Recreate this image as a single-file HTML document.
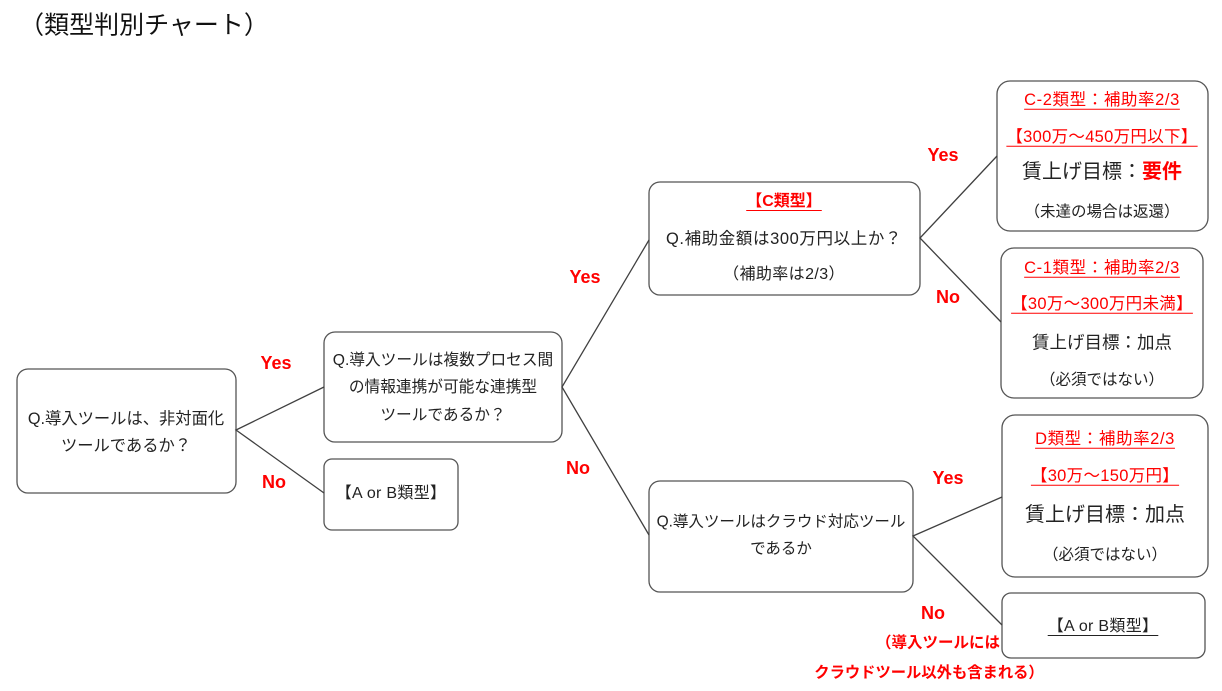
<!DOCTYPE html>
<html><head><meta charset="utf-8">
<style>
html,body{margin:0;padding:0;background:#fff;}
body{width:1222px;height:691px;position:relative;overflow:hidden;font-family:"Liberation Sans","Noto Sans CJK JP",sans-serif;color:#222;}
svg{position:absolute;left:0;top:0;}
.t{position:absolute;transform:translate(-50%,-50%);white-space:nowrap;line-height:1;font-size:15.5px;}
.r{color:#f00;}
.b{font-weight:bold;}
.u{text-decoration:underline;text-underline-offset:4px;text-decoration-thickness:1px;}
.lbl{color:#f00;font-weight:bold;font-size:18px;}
.hd{font-size:16.5px;letter-spacing:0.6px;}
</style></head><body>
<svg width="1222" height="691" viewBox="0 0 1222 691">
<g fill="#fff" stroke="#555" stroke-width="1.3">
<rect x="17" y="369" width="219" height="124" rx="11"/>
<rect x="324" y="332" width="238" height="110" rx="11"/>
<rect x="324" y="459" width="134" height="71" rx="8"/>
<rect x="649" y="182" width="271" height="113" rx="11"/>
<rect x="649" y="481" width="264" height="111" rx="11"/>
<rect x="997" y="81" width="211" height="150" rx="13"/>
<rect x="1001" y="248" width="202" height="150" rx="13"/>
<rect x="1002" y="415" width="206" height="162" rx="13"/>
<rect x="1002" y="593" width="203" height="65" rx="9"/>
</g>
<g stroke="#404040" stroke-width="1.3" fill="none">
<polyline points="324,387 236,430 324,493"/>
<polyline points="649,240 562,387 649,535"/>
<polyline points="997,156 920,238 1001,322"/>
<polyline points="1002,497 913,536 1002,625"/>
</g>
</svg>

<div class="t" style="left:144px;top:26px;font-size:25px;color:#111;">（類型判別チャート）</div>

<div class="t" style="left:126px;top:419px;font-size:16.3px;">Q.導入ツールは、非対面化</div>
<div class="t" style="left:126px;top:446px;font-size:16.3px;">ツールであるか？</div>

<div class="t lbl" style="left:276px;top:363px;">Yes</div>
<div class="t lbl" style="left:274px;top:482px;">No</div>

<div class="t" style="left:443px;top:361px;font-size:15.7px;">Q.導入ツールは複数プロセス間</div>
<div class="t" style="left:443px;top:388px;font-size:15.7px;">の情報連携が可能な連携型</div>
<div class="t" style="left:443px;top:416px;font-size:15.7px;">ツールであるか？</div>

<div class="t" style="left:391px;top:494px;font-size:16px;letter-spacing:0.3px;">【A or B類型】</div>

<div class="t lbl" style="left:585px;top:277px;">Yes</div>
<div class="t lbl" style="left:578px;top:468px;">No</div>

<div class="t r b u" style="left:784px;top:202px;font-size:16px;">【C類型】</div>
<div class="t" style="left:784px;top:239px;font-size:16.5px;letter-spacing:0.6px;">Q.補助金額は300万円以上か？</div>
<div class="t" style="left:784px;top:275px;font-size:16px;letter-spacing:0.4px;">（補助率は2/3）</div>

<div class="t" style="left:781px;top:522px;font-size:15.5px;">Q.導入ツールはクラウド対応ツール</div>
<div class="t" style="left:781px;top:549px;font-size:15.5px;">であるか</div>

<div class="t lbl" style="left:943px;top:155px;">Yes</div>
<div class="t lbl" style="left:948px;top:297px;">No</div>

<div class="t r u hd" style="left:1102px;top:100px;">C-2類型：補助率2/3</div>
<div class="t r u hd" style="left:1102px;top:137px;letter-spacing:0.3px;">【300万～450万円以下】</div>
<div class="t" style="left:1102px;top:172px;font-size:20px;">賃上げ目標：<span class="r b">要件</span></div>
<div class="t" style="left:1102px;top:212px;font-size:15.5px;">（未達の場合は返還）</div>

<div class="t r u hd" style="left:1102px;top:268px;">C-1類型：補助率2/3</div>
<div class="t r u hd" style="left:1102px;top:304px;letter-spacing:0.3px;">【30万～300万円未満】</div>
<div class="t" style="left:1102px;top:343px;font-size:17.5px;">賃上げ目標：加点</div>
<div class="t" style="left:1102px;top:380px;font-size:15.5px;">（必須ではない）</div>

<div class="t lbl" style="left:948px;top:478px;">Yes</div>
<div class="t lbl" style="left:933px;top:613px;">No</div>
<div class="t r b" style="left:938px;top:643px;font-size:15.5px;">（導入ツールには</div>
<div class="t r b" style="left:929px;top:673px;font-size:15.3px;">クラウドツール以外も含まれる）</div>

<div class="t r u hd" style="left:1105px;top:439px;">D類型：補助率2/3</div>
<div class="t r u hd" style="left:1105px;top:476px;letter-spacing:0.3px;">【30万～150万円】</div>
<div class="t" style="left:1105px;top:515px;font-size:20px;">賃上げ目標：加点</div>
<div class="t" style="left:1105px;top:555px;font-size:15.5px;">（必須ではない）</div>

<div class="t u" style="left:1103px;top:627px;font-size:16px;letter-spacing:0.3px;">【A or B類型】</div>
</body></html>
